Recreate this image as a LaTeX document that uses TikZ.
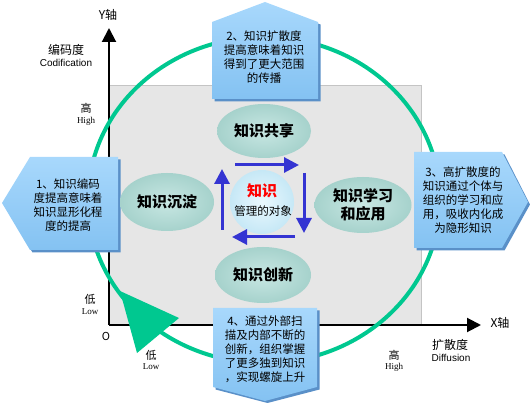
\documentclass[tikz,border=0pt]{standalone}
\usepackage{fontspec}
\setmainfont{Liberation Sans}
\newfontfamily\cjk{Noto Sans CJK SC}
\newfontfamily\serifen{Liberation Serif}
\usetikzlibrary{shapes.geometric,arrows.meta}
\definecolor{boxtop}{HTML}{A8D8FC}
\definecolor{boxbot}{HTML}{84C2F2}
\definecolor{boxshadow}{HTML}{5A90C8}
\definecolor{cyclegreen}{HTML}{00C890}
\definecolor{tealin}{HTML}{C8E7E3}
\definecolor{tealout}{HTML}{A6D2CC}
\definecolor{flowblue}{HTML}{3434D2}
\definecolor{planegray}{HTML}{E6E6E6}
\definecolor{planeedge}{HTML}{C4C4C4}
\definecolor{corein}{HTML}{EAF8FE}
\definecolor{coreout}{HTML}{C6E8F6}
\begin{document}
\begin{tikzpicture}[x=1pt,y=-1pt,
  axislabel/.style={font=\cjk\fontsize{12}{14}\selectfont, inner sep=0pt},
  enlabel/.style={font=\fontsize{10}{12}\selectfont, inner sep=0pt},
  ticklabel/.style={font=\cjk\fontsize{11}{13}\selectfont, inner sep=0pt},
  tickenlabel/.style={font=\serifen\fontsize{9}{11}\selectfont, inner sep=0pt},
  boxtext/.style={font=\cjk\fontsize{11.5}{14}\selectfont, align=center, inner sep=0pt},
  boxshape/.style={top color=boxtop, bottom color=boxbot, draw=none},
  boxshade/.style={fill=boxshadow, draw=none},
  bubble/.style={ellipse, inner color=tealin, outer color=tealout, draw=none,
    font=\cjk\bfseries\fontsize{15}{18}\selectfont, align=center, inner sep=0pt},
  axisline/.style={line width=2pt, -{Triangle[length=14pt,width=14pt]}},
  flow/.style={draw=flowblue, line width=3pt, -{Triangle[length=15pt,width=15pt]}},
  cycle/.style={draw=cyclegreen, line width=4pt}
]
\useasboundingbox (0,0) rectangle (530,403);

% plane
\draw[draw=planeedge, fill=planegray] (109,85) rectangle (421,325);

% axes
\coordinate (O) at (109,325);
\coordinate (ytip) at (109,28);
\coordinate (xtip) at (481,325);
\draw[axisline] (O) -- (ytip);
\draw[axisline] (O) -- (xtip);

% axis labels
\node[axislabel] (ylab) at (108,15) {Y轴};
\node[axislabel] (xlab) at (500,323) {X轴};
\node[axislabel] (code) at (66,50) {编码度};
\node[enlabel] (codeen) at (66,63) {Codification};
\node[ticklabel] (yhigh) at (86,108) {高};
\node[tickenlabel] (yhighen) at (86,121) {High};
\node[ticklabel] (ylow) at (90,299) {低};
\node[tickenlabel] (ylowen) at (90,312) {Low};
\node[ticklabel] (orig) at (106,336) {O};
\node[ticklabel] (xlow) at (151,355) {低};
\node[tickenlabel] (xlowen) at (151,367) {Low};
\node[ticklabel] (xhigh) at (394,355) {高};
\node[tickenlabel] (xhighen) at (394,367) {High};
\node[axislabel] (diff) at (450,345) {扩散度};
\node[enlabel] (diffen) at (451,358) {Diffusion};

% green cycle
\draw[cycle] (264,200) ellipse [x radius=176pt, y radius=163pt];

% boxes: shadows
\fill[boxshade] (32.5,159.5) -- (120.5,159.5) -- (120.5,252.5) -- (32.5,252.5) -- (4.5,205.5) -- cycle;
\fill[boxshade] (214.5,24.5) -- (267.5,4.5) -- (320.5,24.5) -- (320.5,101.5) -- (214.5,101.5) -- cycle;
\fill[boxshade] (416.5,154.5) -- (504.5,154.5) -- (530,204.5) -- (504.5,250.5) -- (416.5,250.5) -- cycle;
\fill[boxshade] (215.5,310.5) -- (319.5,310.5) -- (319.5,389.5) -- (267.5,403) -- (215.5,389.5) -- cycle;
% boxes
\path[boxshape] (30,157) -- (118,157) -- (118,250) -- (30,250) -- (2,203) -- cycle;
\path[boxshape] (212,22) -- (265,2) -- (318,22) -- (318,99) -- (212,99) -- cycle;
\path[boxshape] (414,152) -- (502,152) -- (528,202) -- (502,248) -- (414,248) -- cycle;
\path[boxshape] (213,308) -- (317,308) -- (317,387) -- (265,401) -- (213,387) -- cycle;

\node[boxtext] (b1) at (68,205) {1、知识编码\\度提高意味着\\知识显形化程\\度的提高};
\node[boxtext] (b2) at (264,57) {2、知识扩散度\\提高意味着知识\\得到了更大范围\\的传播};
\node[boxtext] (b3) at (463,200) {3、高扩散度的\\知识通过个体与\\组织的学习和应\\用，吸收内化成\\为隐形知识};
\node[boxtext] (b4) at (265,349) {4、通过外部扫\\描及内部不断的\\创新，组织掌握\\了更多独到知识\\，实现螺旋上升};

% bubbles
\node[bubble, minimum width=94pt, minimum height=54pt] (share) at (264,131) {知识共享};
\node[bubble, minimum width=94pt, minimum height=58pt] (settle) at (167,202) {知识沉淀};
\node[bubble, minimum width=97pt, minimum height=56pt] (learn) at (363,205) {知识学习\\和应用};
\node[bubble, minimum width=96pt, minimum height=56pt] (innov) at (263,275) {知识创新};

% core
\node[circle, inner color=corein, outer color=coreout, minimum size=64pt, inner sep=0pt,
  align=center] (core) at (262,202) {};
\node[font=\cjk\bfseries\fontsize{15}{17}\selectfont, text=red, inner sep=0pt] (coreA) at (262,191) {知识};
\node[font=\cjk\fontsize{11.5}{13}\selectfont, inner sep=0pt] (coreB) at (263,211) {管理的对象};

% flow arrows
\coordinate (fa1) at (235,165); \coordinate (fa2) at (299,165);
\coordinate (fb1) at (304,173); \coordinate (fb2) at (304,233);
\coordinate (fc1) at (295,237); \coordinate (fc2) at (232,237);
\coordinate (fd1) at (222,230); \coordinate (fd2) at (222,169);
\draw[flow] (fa1) -- (fa2);
\draw[flow] (fb1) -- (fb2);
\draw[flow] (fc1) -- (fc2);
\draw[flow] (fd1) -- (fd2);

% big green arrowhead
\fill[cyclegreen] (120,291) -- (179,318) -- (137,353) -- cycle;
\end{tikzpicture}
\end{document}
